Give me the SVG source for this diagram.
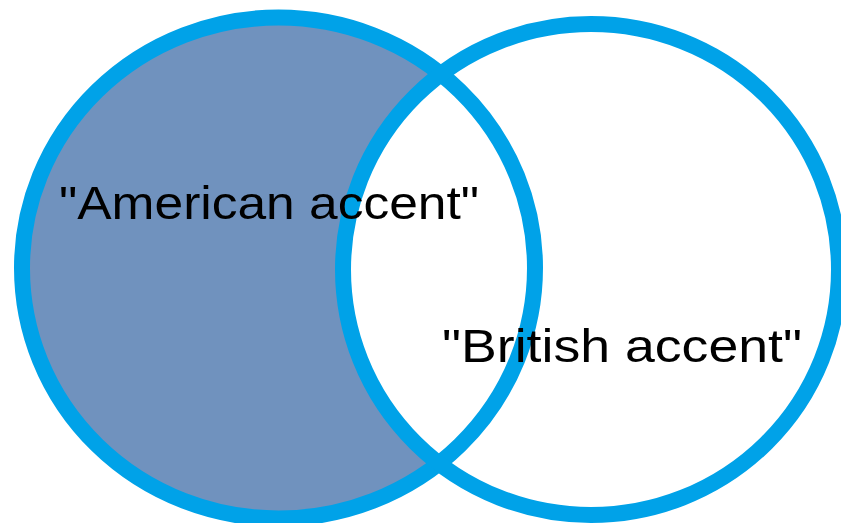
<svg xmlns="http://www.w3.org/2000/svg" width="841" height="523" viewBox="0 0 841 523">
  <style>
    .ring { fill: none; stroke: #00A2E8; stroke-width: 16; }
    .label { font-family: "Liberation Sans", Arial, sans-serif; font-size: 47px; fill: #000000; }
  </style>
  <rect x="0" y="0" width="841" height="523" fill="#FFFFFF"/>
  <g id="fills">
    <ellipse cx="278.5" cy="268" rx="256.5" ry="250.5" fill="#7092BE"/>
    <ellipse cx="591" cy="269.5" rx="248" ry="245.5" fill="#FFFFFF"/>
  </g>
  <g id="american">
    <ellipse class="ring" cx="278.5" cy="268" rx="256.5" ry="250.5"/>
  </g>
  <g id="british">
    <ellipse class="ring" cx="591" cy="269.5" rx="248" ry="245.5"/>
  </g>
  <g id="labels">
    <text class="label" x="59" y="219" textLength="420" lengthAdjust="spacingAndGlyphs">"American accent"</text>
    <text class="label" x="442" y="362" textLength="360" lengthAdjust="spacingAndGlyphs">"British accent"</text>
  </g>
</svg>
